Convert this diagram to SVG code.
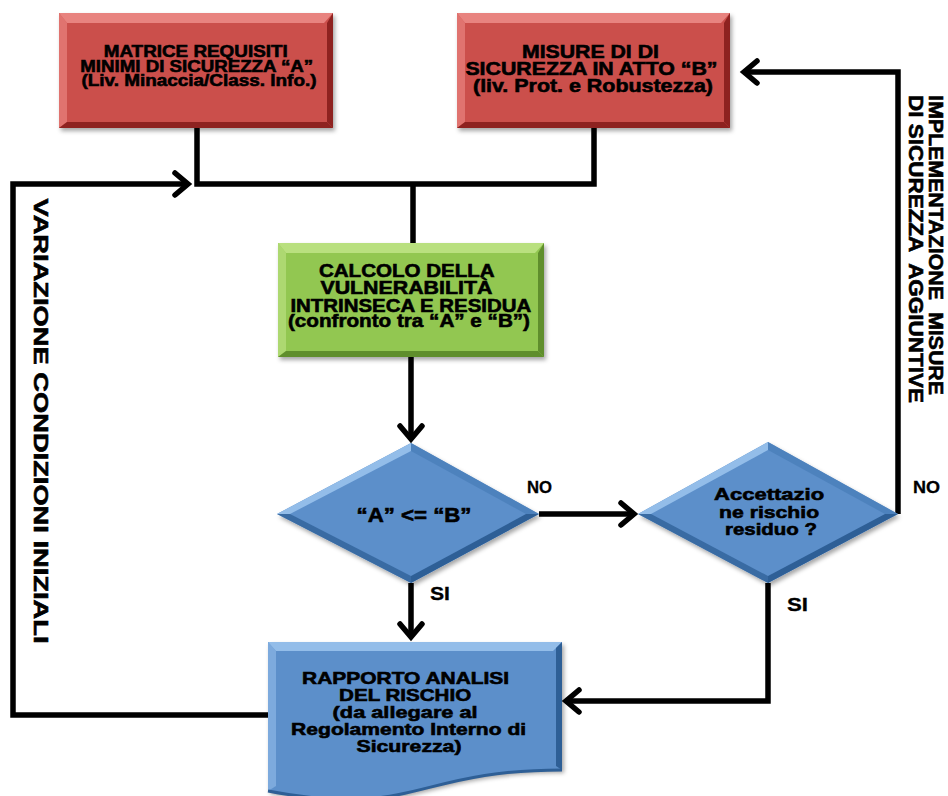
<svg xmlns="http://www.w3.org/2000/svg" width="948" height="796" viewBox="0 0 948 796">
  <defs>
    <style>
      .t { font-family: "Liberation Sans", Arial, sans-serif; font-weight: bold; text-anchor: middle; fill: #000; stroke: #000; stroke-width: 0.6; }
      .lbl { font-family: "Liberation Sans", Arial, sans-serif; font-weight: bold; fill: #000; stroke: #000; stroke-width: 0.3; }
      .conn { fill: none; stroke: #000; stroke-width: 5.5; stroke-linejoin: miter; stroke-linecap: butt; }
      .red { fill: #CB4F4C; }
      .red-l { fill: #E8837F; }
      .red-d { fill: #8E2220; }
      .grn { fill: #92C751; }
      .grn-l { fill: #B9E07F; }
      .grn-d { fill: #5F8E2C; }
      .blu { fill: #5B8FCA; }
      .blu-l { fill: #93BDE9; }
      .blu-d { fill: #2E5F96; }
      .blu-m { fill: #4A7EB9; }
    </style>
    <filter id="shadow" x="-10%" y="-10%" width="130%" height="130%">
      <feDropShadow dx="2" dy="3" stdDeviation="2" flood-color="#000" flood-opacity="0.35"/>
    </filter>
    <marker id="arrow" markerUnits="userSpaceOnUse" markerWidth="34" markerHeight="34" viewBox="-20 -17 34 34" refX="0" refY="0" orient="auto">
      <path d="M-13,-11 L0,0 L-13,11" fill="none" stroke="#000" stroke-width="5.5" stroke-linecap="round" stroke-linejoin="miter"/>
    </marker>
  </defs>

  <rect width="948" height="796" fill="#fff"/>

  <!-- connectors -->
  <g id="connectors">
    <path class="conn" d="M197,128 V184 H594 V128"/>
    <path class="conn" d="M413,184 V243"/>
    <path class="conn" d="M411,357 V439" marker-end="url(#arrow)"/>
    <path class="conn" d="M539,514 H634" marker-end="url(#arrow)"/>
    <path class="conn" d="M898,514 V72 H744" marker-end="url(#arrow)"/>
    <path class="conn" d="M411,583 V637" marker-end="url(#arrow)"/>
    <path class="conn" d="M768,583 V701 H566" marker-end="url(#arrow)"/>
    <path class="conn" d="M268,715 H13 V184 H188" marker-end="url(#arrow)"/>
  </g>

  <!-- requirement matrix A -->
  <g id="matrice-a">
    <g filter="url(#shadow)">
      <rect class="red" x="59" y="13" width="274" height="115"/>
    </g>
    <path class="red-l" d="M59,13 H333 L324,23 H67 Z"/>
    <path class="red-l" d="M59,13 L67,23 V122 L59,128 Z" opacity="0.7"/>
    <path class="red-d" d="M333,13 V128 L327,122 V23 Z"/>
    <path class="red-d" d="M59,128 H333 L327,122 H67 Z"/>
    <text class="t" font-size="16.5">
      <tspan x="198" y="57" textLength="184" lengthAdjust="spacingAndGlyphs">MATRICE REQUISITI</tspan>
      <tspan x="199" y="71.5" textLength="233" lengthAdjust="spacingAndGlyphs">MINIMI DI SICUREZZA “A”</tspan>
      <tspan x="199" y="86" textLength="235" lengthAdjust="spacingAndGlyphs">(Liv. Minaccia/Class. Info.)</tspan>
    </text>
  </g>

  <!-- security measures B -->
  <g id="misure-b">
    <g filter="url(#shadow)">
      <rect class="red" x="457" y="13" width="273" height="115"/>
    </g>
    <path class="red-l" d="M457,13 H730 L721,23 H465 Z"/>
    <path class="red-l" d="M457,13 L465,23 V122 L457,128 Z" opacity="0.7"/>
    <path class="red-d" d="M730,13 V128 L724,122 V23 Z"/>
    <path class="red-d" d="M457,128 H730 L724,122 H465 Z"/>
    <text class="t" font-size="18.5">
      <tspan x="593" y="57.5" textLength="137" lengthAdjust="spacingAndGlyphs">MISURE DI DI</tspan>
      <tspan x="594" y="75" textLength="252" lengthAdjust="spacingAndGlyphs">SICUREZZA IN ATTO “B”</tspan>
      <tspan x="593" y="91.5" textLength="240" lengthAdjust="spacingAndGlyphs">(liv. Prot. e Robustezza)</tspan>
    </text>
  </g>

  <!-- vulnerability calculation -->
  <g id="calcolo">
    <g filter="url(#shadow)">
      <rect class="grn" x="278" y="243" width="266" height="114"/>
    </g>
    <path class="grn-l" d="M278,243 H544 L535,253 H286 Z"/>
    <path class="grn-l" d="M278,243 L286,253 V351 L278,357 Z" opacity="0.7"/>
    <path class="grn-d" d="M544,243 V357 L538,351 V253 Z"/>
    <path class="grn-d" d="M278,357 H544 L538,351 H286 Z"/>
    <text class="t" font-size="18.5">
      <tspan x="409" y="276.5" textLength="175" lengthAdjust="spacingAndGlyphs">CALCOLO DELLA</tspan>
      <tspan x="409" y="293.5" textLength="172" lengthAdjust="spacingAndGlyphs">VULNERABILITÀ</tspan>
      <tspan x="413" y="311.5" textLength="240" lengthAdjust="spacingAndGlyphs">INTRINSECA E RESIDUA</tspan>
      <tspan x="409" y="327" textLength="242" lengthAdjust="spacingAndGlyphs">(confronto tra “A” e “B”)</tspan>
    </text>
  </g>

  <!-- decision A <= B -->
  <g id="confronto">
    <g filter="url(#shadow)">
      <path class="blu" d="M277,514 L411,443 L539,514 L411,583 Z"/>
    </g>
    <path class="blu-l" d="M277,514 L411,443 L411,451 L290,514 Z"/>
    <path class="blu-m" d="M411,443 L539,514 L526,514 L411,451 Z" opacity="0.8"/>
    <path class="blu-d" d="M539,514 L411,583 L411,576 L526,514 Z"/>
    <path class="blu-d" d="M277,514 L411,583 L411,576 L290,514 Z" opacity="0.75"/>
    <text class="t" font-size="20" x="414" y="521.5" textLength="115" lengthAdjust="spacingAndGlyphs">“A” &lt;= “B”</text>
  </g>

  <!-- residual risk acceptance -->
  <g id="accettazione">
    <g filter="url(#shadow)">
      <path class="blu" d="M638,514 L768,442 L898,514 L768,583 Z"/>
    </g>
    <path class="blu-l" d="M638,514 L768,442 L768,450 L651,514 Z"/>
    <path class="blu-m" d="M768,442 L898,514 L885,514 L768,450 Z" opacity="0.8"/>
    <path class="blu-d" d="M898,514 L768,583 L768,576 L885,514 Z"/>
    <path class="blu-d" d="M638,514 L768,583 L768,576 L651,514 Z" opacity="0.75"/>
    <text class="t" font-size="17">
      <tspan x="771.5" y="500" textLength="110" lengthAdjust="spacingAndGlyphs">Accettazio</tspan>
      <tspan x="771.5" y="517.5" textLength="100" lengthAdjust="spacingAndGlyphs">ne rischio</tspan>
      <tspan x="771" y="535" textLength="92" lengthAdjust="spacingAndGlyphs">residuo ?</tspan>
    </text>
  </g>

  <!-- risk analysis report -->
  <g id="rapporto">
    <g filter="url(#shadow)">
      <path class="blu" d="M268,642 H562 V770 C415,770 415,819 268,791 Z"/>
    </g>
    <path class="blu-l" d="M268,642 H562 L553,651 H276 Z"/>
    <path class="blu-l" d="M268,642 L276,651 V786 L268,791 Z" opacity="0.6"/>
    <path class="blu-d" d="M562,642 V770 L556,766 V648 Z"/>
    <path d="M562,770 C415,770 415,819 268,791" fill="none" stroke="#2E5F96" stroke-width="3"/>
    <text class="t" font-size="17">
      <tspan x="408" y="683.5" textLength="207" lengthAdjust="spacingAndGlyphs">RAPPORTO ANALISI</tspan>
      <tspan x="407.5" y="701" textLength="132" lengthAdjust="spacingAndGlyphs">DEL RISCHIO</tspan>
      <tspan x="407.5" y="717.5" textLength="145" lengthAdjust="spacingAndGlyphs">(da allegare al</tspan>
      <tspan x="411" y="735" textLength="235" lengthAdjust="spacingAndGlyphs">Regolamento Interno di</tspan>
      <tspan x="409" y="751.5" textLength="105" lengthAdjust="spacingAndGlyphs">Sicurezza)</tspan>
    </text>
  </g>

  <!-- branch labels -->
  <g id="labels">
    <text class="lbl" font-size="16" x="527" y="493" textLength="25" lengthAdjust="spacingAndGlyphs">NO</text>
    <text class="lbl" font-size="18" x="430" y="600" textLength="20" lengthAdjust="spacingAndGlyphs">SI</text>
    <text class="lbl" font-size="16" x="913" y="493" textLength="27" lengthAdjust="spacingAndGlyphs">NO</text>
    <text class="lbl" font-size="18" x="787" y="611" textLength="21" lengthAdjust="spacingAndGlyphs">SI</text>
  </g>

  <!-- vertical loop labels -->
  <g id="loop-labels">
    <text class="t" font-size="21" transform="translate(929,245) rotate(90)" x="0" y="0" textLength="300" lengthAdjust="spacingAndGlyphs" xml:space="preserve">IMPLEMENTAZIONE  MISURE</text>
    <text class="t" font-size="21" transform="translate(909,249) rotate(90)" x="0" y="0" textLength="308" lengthAdjust="spacingAndGlyphs" xml:space="preserve">DI SICUREZZA  AGGIUNTIVE</text>
    <text class="t" font-size="21" transform="translate(33.5,421) rotate(90)" x="0" y="0" textLength="445" lengthAdjust="spacingAndGlyphs">VARIAZIONE CONDIZIONI INIZIALI</text>
  </g>
</svg>
